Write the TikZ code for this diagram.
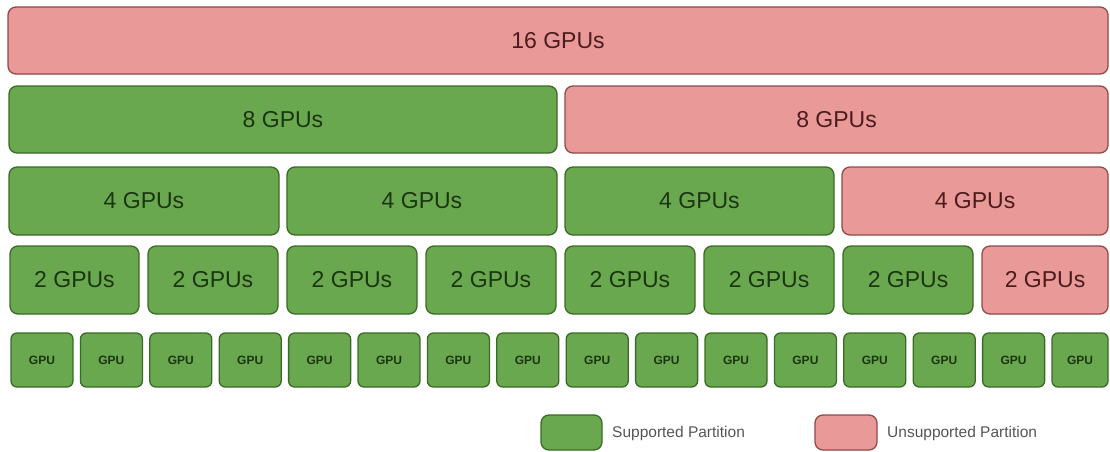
\documentclass[tikz,border=0pt]{standalone}
\usepackage{fontspec}
\setmainfont{Liberation Sans}
\definecolor{okfill}{HTML}{6AA84F}
\definecolor{okline}{HTML}{3B6A27}
\definecolor{oktext}{HTML}{1B3510}
\definecolor{nofill}{HTML}{EA9999}
\definecolor{noline}{HTML}{8E4A4A}
\definecolor{notext}{HTML}{4A1C1C}
\definecolor{legendtext}{HTML}{555555}
\tikzset{
  part/.style={draw, line width=1.3pt, rounded corners=8pt, inner sep=0pt,
    font=\fontsize{23}{23}\selectfont},
  ok/.style={part, fill=okfill, draw=okline, text=oktext},
  no/.style={part, fill=nofill, draw=noline, text=notext},
  gpu/.style={ok, rounded corners=6pt, font=\bfseries\fontsize{12}{12}\selectfont},
  legendlabel/.style={anchor=west, inner sep=0pt, text=legendtext,
    font=\fontsize{15.5}{15.5}\selectfont},
}
% name, style, left, right, top, bottom, label
\newcommand\partbox[7]{%
  \node[#2, minimum width={#4-#3}, minimum height={#6-#5}]
    (#1) at ({(#3+#4)/2},{(#5+#6)/2}) {#7};}
\begin{document}
\begin{tikzpicture}[x=1pt,y=-1pt]
  \useasboundingbox (0,0) rectangle (1110,452);
  % 16 GPUs
  \partbox{p16}{no}{8}{1108}{7}{74}{16 GPUs}
  % 8 GPUs
  \partbox{p8a}{ok}{9}{557}{86}{153}{8 GPUs}
  \partbox{p8b}{no}{565}{1108}{86}{153}{8 GPUs}
  % 4 GPUs
  \partbox{p4a}{ok}{9}{279}{167}{235}{4 GPUs}
  \partbox{p4b}{ok}{287}{557}{167}{235}{4 GPUs}
  \partbox{p4c}{ok}{565}{834}{167}{235}{4 GPUs}
  \partbox{p4d}{no}{842}{1108}{167}{235}{4 GPUs}
  % 2 GPUs
  \partbox{p2a}{ok}{10}{139}{246}{314}{2 GPUs}
  \partbox{p2b}{ok}{148}{278}{246}{314}{2 GPUs}
  \partbox{p2c}{ok}{287}{417}{246}{314}{2 GPUs}
  \partbox{p2d}{ok}{426}{556}{246}{314}{2 GPUs}
  \partbox{p2e}{ok}{565}{695}{246}{314}{2 GPUs}
  \partbox{p2f}{ok}{704}{834}{246}{314}{2 GPUs}
  \partbox{p2g}{ok}{843}{973}{246}{314}{2 GPUs}
  \partbox{p2h}{no}{982}{1108}{246}{314}{2 GPUs}
  % single GPUs
  \foreach \i in {0,...,14} {
    \pgfmathsetmacro\xl{11+69.4*\i}
    \pgfmathsetmacro\xr{\xl+62}
    \partbox{g\i}{gpu}{\xl}{\xr}{333}{387}{GPU}
  }
  \partbox{g15}{gpu}{1052}{1108}{333}{387}{GPU}
  % legend
  \partbox{legok}{ok}{541}{602}{415}{450}{}
  \partbox{legno}{no}{815}{877}{415}{450}{}
  \node[legendlabel] (legoktext) at (612,433) {Supported Partition};
  \node[legendlabel] (legnotext) at (887,433) {Unsupported Partition};
\end{tikzpicture}
\end{document}
